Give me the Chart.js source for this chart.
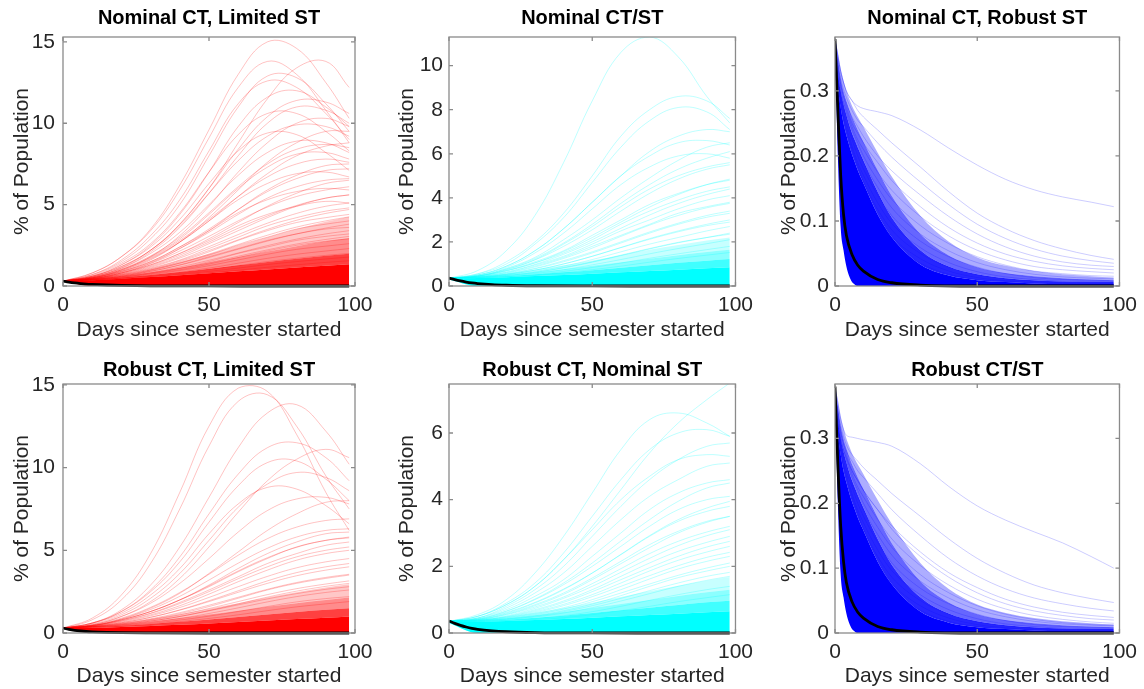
<!DOCTYPE html>
<html><head><meta charset="utf-8">
<script src="https://cdn.jsdelivr.net/npm/chart.js@4/dist/chart.umd.min.js"></script>
<style>
body{margin:0;background:#fff;width:1144px;height:689px;position:relative;overflow:hidden}
canvas{position:absolute;display:block}
</style></head><body>
<canvas id="c1" width="380" height="345" style="left:0;top:0"></canvas>
<canvas id="c2" width="380" height="345" style="left:380px;top:0"></canvas>
<canvas id="c3" width="384" height="345" style="left:760px;top:0"></canvas>
<canvas id="c4" width="380" height="344" style="left:0;top:345px"></canvas>
<canvas id="c5" width="380" height="344" style="left:380px;top:345px"></canvas>
<canvas id="c6" width="384" height="344" style="left:760px;top:345px"></canvas>
<script>
// ---------- text ----------
const TITLES = ["Nominal CT, Limited ST","Nominal CT/ST","Nominal CT, Robust ST","Robust CT, Limited ST","Robust CT, Nominal ST","Robust CT/ST"];
const X_LABEL = "Days since semester started";
const Y_LABEL = "% of Population";
// ---------- ticks ----------
const X_TICKS = [0, 50, 100];
const Y_TICKS_15 = [0, 5, 10, 15];
const Y_TICKS_10 = [0, 2, 4, 6, 8, 10];
const Y_TICKS_6 = [0, 2, 4, 6];
const Y_TICKS_03 = [0, 0.1, 0.2, 0.3];
// ---------- day grids ----------
const GROW_DAYS = [0, 10, 20, 30, 40, 50, 60, 70, 80, 90, 98];
const DECAY_DAYS = [0, 2, 4, 6, 8, 10, 15, 20, 30, 40, 50, 60, 70, 80, 90, 98];
const BAND_DECAY_DAYS = [0, 1, 2, 3, 4, 5, 6, 7, 8, 10, 15, 20, 30, 40, 50, 60, 70, 80, 90, 98];
const BLACK_GROW_DAYS = [0, 2, 4, 6, 8, 10, 15, 20, 30, 50, 75, 98];
const BLACK_DECAY_DAYS = [0, 1, 2, 3, 4, 6, 8, 10, 15, 20, 30, 50, 98];
// opacity of the density bands, outermost first
const BAND_ALPHAS = [0.22, 0.45, 0.75, 1];
const BAND_ALPHAS_BLUE = [0.32, 0.6, 0.85, 1];

// ---------- Panel 1: Nominal CT, Limited ST ----------
const P1_LINES = [
 [0.3,0.8,1.8,3.5,6.2,9.6,13,15,14.6,12.5,10.3],
 [0.3,0.6,1.2,2.2,3.8,6,8.8,11.5,13.4,13.8,12.2],
 [0.3,0.8,1.8,3.4,5.9,9.1,12.2,13.8,13,10.8,8.8],
 [0.3,0.7,1.5,2.9,5,8,11,12.9,12.8,11.2,9.5],
 [0.3,0.7,1.6,3.1,5.3,8.3,11.2,12.6,12.2,10.6,9],
 [0.3,0.6,1.3,2.5,4.4,7,9.8,11.6,12,11,9.8],
 [0.3,0.55,1.15,2.2,3.8,6,8.4,10.4,11.4,11.3,10.6],
 [0.3,0.55,1.1,2.1,3.6,5.7,8,10,11,10.8,10],
 [0.3,0.65,1.4,2.6,4.5,7,9.3,10.6,10.6,9.5,8.3],
 [0.3,0.5,1,1.8,3.1,4.9,7,8.8,10,10.3,9.8],
 [0.3,0.6,1.2,2.2,3.7,5.7,7.7,9.2,9.9,9.8,9.2],
 [0.3,0.6,1.3,2.4,4.1,6.3,8.3,9.4,9.3,8.2,7.1],
 [0.3,0.5,0.9,1.6,2.7,4.2,5.9,7.6,8.8,9.5,9.5],
 [0.3,0.55,1.1,2,3.3,5,6.8,8.2,8.9,8.8,8.2],
 [0.3,0.5,0.95,1.65,2.7,4,5.5,6.9,8,8.6,8.8],
 [0.3,0.55,1.05,1.85,3,4.5,6.1,7.5,8.4,8.7,8.5],
 [0.3,0.5,1,1.8,2.9,4.4,6,7.3,8.1,8.2,7.8],
 [0.3,0.52,1,1.75,2.8,4.1,5.5,6.7,7.5,7.8,7.6],
 [0.3,0.45,0.8,1.4,2.3,3.4,4.7,5.9,6.8,7.4,7.5],
 [0.3,0.48,0.88,1.5,2.4,3.5,4.7,5.8,6.6,7.1,7.2],
 [0.3,0.5,0.95,1.7,2.7,4,5.3,6.3,6.9,7,6.7],
 [0.3,0.47,0.85,1.45,2.3,3.3,4.4,5.4,6.1,6.5,6.6],
 [0.3,0.45,0.8,1.3,2,2.9,3.9,4.9,5.7,6.3,6.5],
 [0.3,0.46,0.82,1.38,2.15,3.05,4,4.85,5.5,5.9,6.1],
 [0.3,0.5,0.9,1.5,2.4,3.4,4.5,5.3,5.8,6,5.9],
 [0.3,0.45,0.75,1.2,1.8,2.6,3.4,4.2,4.9,5.4,5.6],
 [0.3,0.44,0.76,1.25,1.9,2.7,3.55,4.3,4.95,5.4,5.6],
 [0.3,0.45,0.8,1.3,2,2.8,3.7,4.4,4.9,5.2,5.1],
 [0.3,0.43,0.72,1.15,1.72,2.42,3.16,3.86,4.46,4.9,5.1],
 [0.3,0.42,0.7,1.1,1.6,2.3,3,3.7,4.2,4.6,4.8],
 [0.3,0.42,0.68,1.06,1.56,2.18,2.84,3.48,4.04,4.46,4.7],
 [0.3,0.42,0.65,1,1.5,2.1,2.8,3.4,3.9,4.2,4.4],
 [0.3,0.41,0.64,0.98,1.42,1.96,2.55,3.12,3.62,4,4.25],
 [0.3,0.4,0.6,0.95,1.4,1.9,2.5,3,3.5,3.8,4],
 [0.3,0.4,0.6,0.9,1.28,1.75,2.26,2.76,3.2,3.56,3.8],
 [0.3,0.4,0.6,0.9,1.3,1.8,2.3,2.8,3.2,3.5,3.6],
 [0.3,0.39,0.57,0.83,1.17,1.58,2.03,2.48,2.88,3.2,3.4],
 [0.3,0.4,0.55,0.8,1.1,1.5,2,2.4,2.8,3.05,3.2],
 [0.3,0.38,0.54,0.77,1.07,1.43,1.83,2.22,2.58,2.86,3.05],
 [0.3,0.38,0.52,0.75,1,1.35,1.75,2.15,2.5,2.75,2.9],
 [0.3,0.38,0.5,0.7,0.95,1.25,1.6,1.95,2.25,2.45,2.6],
 [0.3,0.37,0.48,0.65,0.85,1.1,1.4,1.7,1.95,2.15,2.3],
 [0.3,0.36,0.46,0.6,0.78,1,1.25,1.5,1.7,1.88,2],
 [0.3,0.35,0.44,0.56,0.72,0.9,1.1,1.32,1.5,1.66,1.78],
 [0.3,0.35,0.42,0.52,0.65,0.8,0.97,1.15,1.3,1.45,1.55]
];
const P1_BANDS = [
 [0.3,0.46,0.72,1.06,1.48,1.96,2.48,3,3.5,3.95,4.25],
 [0.3,0.42,0.6,0.84,1.12,1.44,1.78,2.12,2.45,2.75,2.95],
 [0.3,0.39,0.52,0.68,0.86,1.06,1.27,1.48,1.68,1.86,1.98],
 [0.3,0.36,0.45,0.55,0.66,0.78,0.9,1.02,1.14,1.25,1.33]
];
const P1_LOWER = [0.28,0,0,0,0,0,0,0,0,0,0];
const P1_BLACK = [0.3,0.24,0.19,0.15,0.12,0.1,0.06,0.035,0.012,0.002,0,0];

// ---------- Panel 2: Nominal CT/ST ----------
const P2_LINES = [
 [0.35,0.7,1.6,3.2,5.6,8.4,10.6,11.3,10.4,8.6,7.4],
 [0.35,0.55,1.1,2,3.3,5,6.8,8,8.6,8.4,7.6],
 [0.35,0.55,1,1.9,3.1,4.7,6.3,7.5,8.1,7.9,7.1],
 [0.35,0.5,0.9,1.6,2.6,3.8,5,6.1,6.8,7.1,7],
 [0.35,0.5,0.9,1.6,2.6,3.8,5,5.9,6.5,6.6,6.4],
 [0.35,0.45,0.8,1.3,2.1,3,4,4.9,5.7,6.3,6.5],
 [0.35,0.47,0.78,1.25,1.95,2.8,3.75,4.6,5.3,5.8,6.1],
 [0.35,0.5,0.85,1.5,2.4,3.5,4.6,5.4,5.9,6,5.8],
 [0.35,0.45,0.75,1.2,1.9,2.7,3.6,4.4,5,5.4,5.6],
 [0.35,0.46,0.74,1.18,1.8,2.55,3.4,4.2,4.85,5.3,5.5],
 [0.35,0.44,0.68,1.05,1.56,2.2,2.9,3.58,4.15,4.6,4.85],
 [0.35,0.45,0.7,1.1,1.6,2.3,3,3.7,4.2,4.6,4.8],
 [0.35,0.45,0.7,1.05,1.5,2.1,2.8,3.4,3.9,4.3,4.5],
 [0.35,0.43,0.64,0.98,1.44,2,2.62,3.22,3.74,4.15,4.4],
 [0.35,0.42,0.62,0.95,1.35,1.9,2.5,3,3.5,3.9,4.1],
 [0.35,0.42,0.6,0.9,1.3,1.8,2.3,2.8,3.3,3.6,3.8],
 [0.35,0.41,0.58,0.86,1.25,1.72,2.25,2.76,3.2,3.55,3.75],
 [0.35,0.4,0.55,0.8,1.15,1.55,2,2.45,2.85,3.2,3.4],
 [0.35,0.4,0.54,0.78,1.1,1.5,1.95,2.4,2.8,3.12,3.3],
 [0.35,0.4,0.52,0.72,1,1.35,1.75,2.15,2.5,2.8,3],
 [0.35,0.39,0.52,0.72,1,1.35,1.74,2.12,2.46,2.74,2.9],
 [0.35,0.38,0.5,0.66,0.9,1.2,1.55,1.9,2.2,2.5,2.7],
 [0.35,0.38,0.48,0.62,0.82,1.08,1.38,1.68,1.96,2.2,2.4],
 [0.35,0.38,0.47,0.62,0.84,1.1,1.4,1.7,1.98,2.2,2.35],
 [0.35,0.37,0.45,0.57,0.74,0.96,1.2,1.46,1.7,1.92,2.1],
 [0.35,0.36,0.42,0.52,0.66,0.84,1.04,1.26,1.46,1.65,1.8],
 [0.35,0.35,0.4,0.48,0.6,0.74,0.9,1.08,1.25,1.4,1.52]
];
const P2_BANDS = [
 [0.35,0.42,0.56,0.74,0.94,1.16,1.4,1.64,1.86,2.06,2.2],
 [0.35,0.4,0.5,0.62,0.76,0.92,1.08,1.24,1.4,1.54,1.64],
 [0.35,0.38,0.45,0.53,0.62,0.72,0.83,0.94,1.05,1.15,1.22],
 [0.35,0.36,0.4,0.45,0.5,0.56,0.62,0.68,0.74,0.8,0.85]
];
const P2_LOWER = [0.3,0,0,0,0,0,0,0,0,0,0];
const P2_BLACK = [0.36,0.29,0.23,0.18,0.14,0.11,0.06,0.035,0.012,0.002,0,0];

// ---------- Panel 3: Nominal CT, Robust ST ----------
const P3_LINES = [
 [0.38,0.33,0.3,0.285,0.277,0.273,0.268,0.262,0.24,0.212,0.186,0.164,0.148,0.137,0.129,0.122],
 [0.38,0.33,0.3,0.285,0.27,0.26,0.24,0.22,0.183,0.145,0.112,0.088,0.07,0.057,0.047,0.041],
 [0.38,0.32,0.29,0.27,0.255,0.245,0.22,0.198,0.16,0.125,0.095,0.073,0.057,0.046,0.039,0.035],
 [0.37,0.31,0.28,0.26,0.245,0.23,0.2,0.177,0.14,0.107,0.08,0.06,0.046,0.037,0.032,0.03],
 [0.37,0.31,0.275,0.25,0.235,0.22,0.19,0.162,0.122,0.09,0.066,0.049,0.038,0.031,0.027,0.025],
 [0.37,0.3,0.27,0.245,0.225,0.21,0.175,0.147,0.107,0.077,0.055,0.04,0.03,0.025,0.022,0.02],
 [0.36,0.3,0.265,0.24,0.22,0.2,0.163,0.133,0.093,0.065,0.045,0.032,0.023,0.019,0.016,0.015],
 [0.36,0.29,0.26,0.23,0.21,0.19,0.152,0.12,0.08,0.054,0.036,0.025,0.018,0.014,0.012,0.011],
 [0.36,0.29,0.25,0.225,0.2,0.18,0.14,0.108,0.069,0.045,0.029,0.019,0.013,0.01,0.009,0.008],
 [0.36,0.28,0.245,0.215,0.19,0.17,0.128,0.096,0.059,0.036,0.022,0.014,0.01,0.007,0.006,0.006],
 [0.35,0.28,0.24,0.21,0.185,0.16,0.118,0.086,0.05,0.029,0.017,0.011,0.007,0.005,0.004,0.004],
 [0.35,0.27,0.23,0.2,0.175,0.15,0.107,0.076,0.042,0.023,0.013,0.008,0.005,0.004,0.003,0.003],
 [0.35,0.27,0.225,0.19,0.165,0.14,0.097,0.067,0.035,0.018,0.01,0.006,0.004,0.003,0.002,0.002],
 [0.35,0.26,0.215,0.18,0.155,0.13,0.088,0.059,0.029,0.014,0.007,0.004,0.002,0.002,0.001,0.001],
 [0.34,0.26,0.21,0.17,0.145,0.12,0.079,0.051,0.024,0.011,0.005,0.003,0.002,0.001,0.001,0.001],
 [0.34,0.25,0.2,0.16,0.135,0.11,0.07,0.044,0.019,0.008,0.004,0.002,0.001,0,0,0],
 [0.34,0.25,0.19,0.15,0.125,0.1,0.062,0.037,0.015,0.006,0.003,0.001,0,0,0,0],
 [0.34,0.24,0.18,0.14,0.115,0.09,0.054,0.031,0.012,0.004,0.002,0,0,0,0,0],
 [0.33,0.23,0.17,0.13,0.1,0.08,0.046,0.025,0.009,0.003,0.001,0,0,0,0,0]
];
const P3_BANDS = [
 [0.38,0.36,0.335,0.316,0.3,0.288,0.277,0.268,0.26,0.245,0.205,0.168,0.108,0.068,0.044,0.031,0.023,0.018,0.015,0.013],
 [0.38,0.35,0.32,0.3,0.285,0.272,0.26,0.25,0.24,0.222,0.178,0.138,0.08,0.047,0.029,0.02,0.015,0.012,0.01,0.009],
 [0.38,0.33,0.3,0.28,0.263,0.248,0.235,0.224,0.213,0.193,0.145,0.105,0.055,0.03,0.018,0.012,0.009,0.007,0.006,0.006],
 [0.38,0.31,0.275,0.25,0.232,0.216,0.202,0.19,0.178,0.158,0.11,0.075,0.033,0.016,0.009,0.006,0.004,0.003,0.003,0.003]
];
const P3_LOWER = [0.38,0.2,0.09,0.055,0.03,0.015,0.006,0.002,0,0,0,0,0,0,0,0,0,0,0,0];
const P3_BLACK = [0.38,0.27,0.17,0.11,0.078,0.048,0.032,0.023,0.01,0.005,0.0015,0,0];

// ---------- Panel 4: Robust CT, Limited ST ----------
const P4_LINES = [
 [0.3,0.9,2.3,4.8,8.5,12.5,14.8,14.6,12,8.5,6.2],
 [0.3,0.8,2,4.2,7.5,11.3,14,14.4,12.5,9.5,7.5],
 [0.3,0.6,1.4,2.9,5.2,8.2,11.2,13.3,13.8,12.2,10.2],
 [0.3,0.6,1.3,2.6,4.6,7.2,9.6,11.2,11.5,10.6,9.2],
 [0.3,0.5,1,1.9,3.3,5.2,7.3,9.2,10.5,11.1,10.6],
 [0.3,0.6,1.3,2.5,4.3,6.7,8.9,10.3,10.4,9.3,8],
 [0.3,0.55,1.1,2.1,3.6,5.6,7.6,9,9.7,9.4,8.6],
 [0.3,0.6,1.2,2.3,3.9,6,7.8,8.8,8.7,7.7,6.6],
 [0.3,0.5,1,1.8,3,4.5,6.1,7.4,8.1,8.2,7.8],
 [0.3,0.45,0.85,1.5,2.4,3.6,4.9,6.2,7.2,7.9,8],
 [0.3,0.48,0.9,1.55,2.45,3.55,4.7,5.7,6.4,6.8,6.9],
 [0.3,0.46,0.84,1.42,2.22,3.2,4.22,5.12,5.8,6.2,6.3],
 [0.3,0.45,0.8,1.3,2,2.9,3.9,4.8,5.5,6,6.1],
 [0.3,0.45,0.8,1.3,2,2.8,3.7,4.5,5.2,5.6,5.8],
 [0.3,0.44,0.78,1.3,2,2.85,3.75,4.55,5.18,5.6,5.75],
 [0.3,0.45,0.75,1.2,1.85,2.6,3.4,4.2,4.8,5.3,5.5],
 [0.3,0.43,0.73,1.18,1.78,2.5,3.28,4,4.6,5,5.2],
 [0.3,0.42,0.7,1.1,1.65,2.35,3.1,3.8,4.4,4.8,5],
 [0.3,0.41,0.66,1.04,1.54,2.15,2.8,3.42,3.94,4.3,4.5],
 [0.3,0.4,0.62,0.95,1.4,1.95,2.55,3.15,3.65,4,4.2],
 [0.3,0.4,0.62,0.95,1.38,1.9,2.46,3,3.46,3.8,4],
 [0.3,0.39,0.58,0.86,1.23,1.68,2.16,2.64,3.05,3.36,3.55],
 [0.3,0.38,0.55,0.82,1.17,1.6,2.1,2.6,3,3.3,3.5],
 [0.3,0.38,0.54,0.78,1.1,1.48,1.9,2.32,2.68,2.96,3.15],
 [0.3,0.37,0.5,0.72,1,1.36,1.76,2.17,2.53,2.82,3],
 [0.3,0.37,0.51,0.72,1,1.34,1.7,2.06,2.38,2.64,2.8],
 [0.3,0.36,0.47,0.64,0.88,1.18,1.52,1.88,2.2,2.45,2.6],
 [0.3,0.35,0.44,0.58,0.78,1.02,1.3,1.6,1.88,2.08,2.2],
 [0.3,0.34,0.42,0.53,0.69,0.88,1.1,1.35,1.58,1.76,1.9]
];
const P4_BANDS = [
 [0.3,0.41,0.6,0.85,1.14,1.46,1.8,2.14,2.46,2.75,2.95],
 [0.3,0.38,0.52,0.7,0.9,1.12,1.35,1.58,1.8,2,2.14],
 [0.3,0.35,0.44,0.55,0.68,0.82,0.97,1.12,1.27,1.4,1.5],
 [0.3,0.32,0.37,0.43,0.5,0.58,0.66,0.75,0.84,0.92,1]
];
const P4_LOWER = [0.28,0,0,0,0,0,0,0,0,0,0];
const P4_BLACK = [0.3,0.22,0.16,0.12,0.09,0.07,0.04,0.02,0.007,0,0,0];

// ---------- Panel 5: Robust CT, Nominal ST ----------
const P5_LINES = [
 [0.35,0.5,0.85,1.4,2.2,3.2,4.3,5.4,6.3,7,7.5],
 [0.35,0.55,1,1.8,2.9,4.2,5.5,6.4,6.6,6.3,5.9],
 [0.35,0.5,0.9,1.5,2.4,3.5,4.6,5.5,6,6.1,5.9],
 [0.35,0.45,0.8,1.3,2,2.9,3.8,4.6,5.2,5.6,5.7],
 [0.35,0.5,0.85,1.4,2.2,3.1,4,4.7,5.2,5.35,5.3],
 [0.35,0.45,0.75,1.2,1.8,2.6,3.4,4.1,4.6,5,5.1],
 [0.35,0.45,0.7,1.1,1.6,2.3,3,3.7,4.2,4.5,4.6],
 [0.35,0.43,0.66,1.02,1.5,2.1,2.76,3.4,3.95,4.35,4.5],
 [0.35,0.42,0.65,1,1.45,2,2.6,3.2,3.7,4,4.1],
 [0.35,0.41,0.6,0.9,1.3,1.8,2.36,2.92,3.4,3.75,3.95],
 [0.35,0.42,0.62,0.92,1.32,1.8,2.35,2.9,3.35,3.65,3.8],
 [0.35,0.4,0.58,0.85,1.2,1.65,2.15,2.65,3.05,3.35,3.5],
 [0.35,0.4,0.56,0.82,1.16,1.6,2.08,2.56,3,3.32,3.5],
 [0.35,0.4,0.55,0.78,1.08,1.48,1.93,2.38,2.75,3.03,3.2],
 [0.35,0.39,0.52,0.74,1.04,1.4,1.82,2.24,2.62,2.92,3.1],
 [0.35,0.38,0.5,0.7,0.96,1.3,1.7,2.1,2.45,2.72,2.9],
 [0.35,0.38,0.49,0.67,0.92,1.24,1.6,1.96,2.3,2.58,2.75],
 [0.35,0.38,0.48,0.64,0.86,1.15,1.5,1.86,2.18,2.43,2.6],
 [0.35,0.37,0.46,0.61,0.82,1.09,1.4,1.72,2.02,2.27,2.42],
 [0.35,0.37,0.45,0.58,0.76,1,1.3,1.62,1.92,2.15,2.3],
 [0.35,0.36,0.43,0.55,0.72,0.94,1.2,1.47,1.73,1.95,2.1],
 [0.35,0.36,0.42,0.52,0.67,0.87,1.12,1.4,1.66,1.86,2],
 [0.35,0.35,0.41,0.5,0.64,0.82,1.04,1.27,1.5,1.7,1.82],
 [0.35,0.35,0.4,0.48,0.6,0.76,0.96,1.18,1.4,1.58,1.7],
 [0.35,0.34,0.37,0.43,0.52,0.64,0.8,0.98,1.15,1.3,1.4],
 [0.35,0.33,0.35,0.39,0.46,0.55,0.67,0.8,0.94,1.06,1.15]
];
const P5_BANDS = [
 [0.35,0.4,0.49,0.61,0.75,0.91,1.08,1.25,1.42,1.57,1.68],
 [0.35,0.38,0.44,0.53,0.63,0.75,0.87,0.99,1.11,1.22,1.3],
 [0.35,0.36,0.4,0.46,0.52,0.6,0.68,0.76,0.84,0.92,0.97],
 [0.35,0.34,0.36,0.39,0.42,0.46,0.5,0.54,0.58,0.62,0.65]
];
const P5_LOWER = [0.3,0,0,0,0,0,0,0,0,0,0];
const P5_BLACK = [0.36,0.29,0.23,0.18,0.14,0.11,0.065,0.038,0.014,0.002,0,0];

// ---------- Panel 6: Robust CT/ST ----------
const P6_LINES = [
 [0.38,0.33,0.305,0.302,0.3,0.298,0.294,0.288,0.261,0.226,0.196,0.174,0.156,0.139,0.118,0.1],
 [0.37,0.32,0.29,0.275,0.265,0.255,0.235,0.215,0.18,0.145,0.115,0.092,0.074,0.062,0.053,0.047],
 [0.37,0.31,0.28,0.265,0.25,0.24,0.215,0.19,0.15,0.115,0.088,0.068,0.054,0.045,0.038,0.034],
 [0.36,0.3,0.27,0.25,0.235,0.22,0.19,0.165,0.125,0.093,0.07,0.052,0.04,0.032,0.027,0.024],
 [0.37,0.31,0.275,0.25,0.235,0.22,0.19,0.16,0.118,0.086,0.062,0.045,0.034,0.027,0.022,0.02],
 [0.37,0.3,0.27,0.245,0.225,0.21,0.175,0.145,0.104,0.074,0.052,0.037,0.027,0.021,0.017,0.015],
 [0.36,0.3,0.265,0.24,0.22,0.2,0.163,0.132,0.09,0.062,0.042,0.029,0.021,0.016,0.013,0.012],
 [0.36,0.29,0.26,0.23,0.21,0.19,0.152,0.12,0.08,0.054,0.036,0.025,0.018,0.014,0.012,0.011],
 [0.36,0.29,0.25,0.225,0.2,0.18,0.14,0.108,0.069,0.045,0.029,0.019,0.013,0.01,0.009,0.008],
 [0.36,0.28,0.245,0.215,0.19,0.17,0.128,0.096,0.059,0.036,0.022,0.014,0.01,0.007,0.006,0.006],
 [0.35,0.28,0.24,0.21,0.185,0.16,0.118,0.086,0.05,0.029,0.017,0.011,0.007,0.005,0.004,0.004],
 [0.35,0.27,0.23,0.2,0.175,0.15,0.107,0.076,0.042,0.023,0.013,0.008,0.005,0.004,0.003,0.003],
 [0.35,0.27,0.225,0.19,0.165,0.14,0.097,0.067,0.035,0.018,0.01,0.006,0.004,0.003,0.002,0.002],
 [0.35,0.26,0.215,0.18,0.155,0.13,0.088,0.059,0.029,0.014,0.007,0.004,0.002,0.002,0.001,0.001],
 [0.34,0.26,0.21,0.17,0.145,0.12,0.079,0.051,0.024,0.011,0.005,0.003,0.002,0.001,0.001,0.001],
 [0.34,0.25,0.2,0.16,0.135,0.11,0.07,0.044,0.019,0.008,0.004,0.002,0.001,0,0,0],
 [0.34,0.25,0.19,0.15,0.125,0.1,0.062,0.037,0.015,0.006,0.003,0.001,0,0,0,0],
 [0.34,0.24,0.18,0.14,0.115,0.09,0.054,0.031,0.012,0.004,0.002,0,0,0,0,0],
 [0.33,0.23,0.17,0.13,0.1,0.08,0.046,0.025,0.009,0.003,0.001,0,0,0,0,0]
];
const P6_BANDS = [
 [0.38,0.36,0.335,0.316,0.3,0.288,0.277,0.268,0.26,0.245,0.205,0.168,0.108,0.068,0.044,0.031,0.023,0.018,0.015,0.013],
 [0.38,0.35,0.32,0.3,0.285,0.272,0.26,0.25,0.24,0.222,0.178,0.138,0.08,0.047,0.029,0.02,0.015,0.012,0.01,0.009],
 [0.38,0.33,0.3,0.28,0.263,0.248,0.235,0.224,0.213,0.193,0.145,0.105,0.055,0.03,0.018,0.012,0.009,0.007,0.006,0.006],
 [0.38,0.31,0.275,0.25,0.232,0.216,0.202,0.19,0.178,0.158,0.11,0.075,0.033,0.016,0.009,0.006,0.004,0.003,0.003,0.003]
];
const P6_LOWER = [0.38,0.2,0.09,0.055,0.03,0.015,0.006,0.002,0,0,0,0,0,0,0,0,0,0,0,0];
const P6_BLACK = [0.38,0.26,0.165,0.11,0.078,0.048,0.032,0.023,0.01,0.005,0.0015,0,0];

// ---------- rendering ----------
const FONT = "'Liberation Sans', Arial, Helvetica, sans-serif";
const TEXT_COLOR = '#262626';
const BOX_COLOR = '#8a8a8a';

const COLS = [
  {yW:63, padR:25, yTitlePad:9.6, yTickPad:8},
  {yW:69, padR:19, yTitlePad:15, yTickPad:6},
  {yW:75, padR:17, yTitlePad:16.4, yTickPad:6}
];
const ROWS = [
  {titleTop:6, titleBottom:7, xH:59, xTickPad:7, xTitlePad:2},
  {titleTop:13, titleBottom:2, xH:56, xTickPad:7, xTitlePad:0}
];

const PANELS = [
  {id:'c1', col:0, row:0, ymax:15.3, yTicks:Y_TICKS_15, rgb:'255,0,0', alpha:0.24, grow:true, days:GROW_DAYS, lines:P1_LINES, bandDays:GROW_DAYS, bands:P1_BANDS, bandAlphas:BAND_ALPHAS, lower:P1_LOWER, blackDays:BLACK_GROW_DAYS, black:P1_BLACK},
  {id:'c2', col:1, row:0, ymax:11.3, yTicks:Y_TICKS_10, rgb:'0,255,255', alpha:0.26, grow:true, days:GROW_DAYS, lines:P2_LINES, bandDays:GROW_DAYS, bands:P2_BANDS, bandAlphas:BAND_ALPHAS, lower:P2_LOWER, blackDays:BLACK_GROW_DAYS, black:P2_BLACK},
  {id:'c3', col:2, row:0, ymax:0.383, yTicks:Y_TICKS_03, rgb:'0,0,255', alpha:0.2, grow:false, days:DECAY_DAYS, lines:P3_LINES, bandDays:BAND_DECAY_DAYS, bands:P3_BANDS, bandAlphas:BAND_ALPHAS_BLUE, lower:P3_LOWER, blackDays:BLACK_DECAY_DAYS, black:P3_BLACK},
  {id:'c4', col:0, row:1, ymax:15.05, yTicks:Y_TICKS_15, rgb:'255,0,0', alpha:0.24, grow:true, days:GROW_DAYS, lines:P4_LINES, bandDays:GROW_DAYS, bands:P4_BANDS, bandAlphas:BAND_ALPHAS, lower:P4_LOWER, blackDays:BLACK_GROW_DAYS, black:P4_BLACK},
  {id:'c5', col:1, row:1, ymax:7.47, yTicks:Y_TICKS_6, rgb:'0,255,255', alpha:0.26, grow:true, days:GROW_DAYS, lines:P5_LINES, bandDays:GROW_DAYS, bands:P5_BANDS, bandAlphas:BAND_ALPHAS, lower:P5_LOWER, blackDays:BLACK_GROW_DAYS, black:P5_BLACK},
  {id:'c6', col:2, row:1, ymax:0.384, yTicks:Y_TICKS_03, rgb:'0,0,255', alpha:0.2, grow:false, days:DECAY_DAYS, lines:P6_LINES, bandDays:BAND_DECAY_DAYS, bands:P6_BANDS, bandAlphas:BAND_ALPHAS_BLUE, lower:P6_LOWER, blackDays:BLACK_DECAY_DAYS, black:P6_BLACK}
];

const boxPlugin = {
  id: 'matlabBox',
  afterDatasetsDraw(chart) {
    const {ctx, chartArea: a, scales: {x, y}} = chart;
    ctx.save();
    ctx.strokeStyle = BOX_COLOR;
    ctx.lineWidth = 1.3;
    ctx.strokeRect(a.left, a.top, a.right - a.left, a.bottom - a.top);
    ctx.beginPath();
    const tl = 4;
    x.ticks.forEach(t => {
      const px = x.getPixelForValue(t.value);
      ctx.moveTo(px, a.bottom); ctx.lineTo(px, a.bottom - tl);
      ctx.moveTo(px, a.top); ctx.lineTo(px, a.top + tl);
    });
    y.ticks.forEach(t => {
      const py = y.getPixelForValue(t.value);
      ctx.moveTo(a.left, py); ctx.lineTo(a.left + tl, py);
      ctx.moveTo(a.right, py); ctx.lineTo(a.right - tl, py);
    });
    ctx.stroke();
    ctx.restore();
  }
};

function pts(days, vals) { return days.map((d, i) => ({x: d, y: vals[i]})); }
const CLIP = {left: 0, top: 0, right: 0, bottom: 3};

PANELS.forEach((p, idx) => {
  const col = COLS[p.col], row = ROWS[p.row];
  const curve = p.grow ? {tension: 0.4} : {cubicInterpolationMode: 'monotone'};
  const datasets = [];
  datasets.push({data: pts(p.blackDays, p.black), borderColor: '#000', borderWidth: 2.8, pointRadius: 0, fill: false, cubicInterpolationMode: 'monotone', order: 0, clip: CLIP});
  p.lines.forEach(v => datasets.push(Object.assign({data: pts(p.days, v), borderColor: `rgba(${p.rgb},${p.alpha})`, borderWidth: 1, pointRadius: 0, fill: false, order: 1, clip: CLIP}, curve)));
  p.bands.forEach((b, k) => datasets.push({data: pts(p.bandDays, b), borderWidth: 0, borderColor: 'rgba(0,0,0,0)', backgroundColor: `rgba(${p.rgb},${p.bandAlphas[k]})`, pointRadius: 0, fill: '+1', cubicInterpolationMode: 'monotone', order: 2 + k, clip: CLIP}));
  datasets.push({data: pts(p.bandDays, p.lower), borderWidth: 0, borderColor: 'rgba(0,0,0,0)', pointRadius: 0, fill: false, cubicInterpolationMode: 'monotone', order: 9, clip: CLIP});

  new Chart(document.getElementById(p.id), {
    type: 'line',
    data: {datasets},
    plugins: [boxPlugin],
    options: {
      responsive: false,
      animation: false,
      devicePixelRatio: 1,
      events: [],
      layout: {padding: {left: 0, right: col.padR, top: 0, bottom: 0}},
      plugins: {
        legend: {display: false},
        tooltip: {enabled: false},
        title: {display: true, text: TITLES[idx], fullSize: false, color: '#000',
          font: {family: FONT, size: 20, weight: 'bold'},
          padding: {top: row.titleTop, bottom: row.titleBottom}}
      },
      scales: {
        x: {
          type: 'linear', min: 0, max: 100,
          grid: {display: false, drawTicks: false},
          border: {display: false},
          afterBuildTicks: s => { s.ticks = X_TICKS.map(v => ({value: v})); },
          afterFit: s => { s.height = row.xH; },
          ticks: {color: TEXT_COLOR, font: {family: FONT, size: 21}, padding: row.xTickPad, maxRotation: 0, autoSkip: false, callback: v => String(v)},
          title: {display: true, text: X_LABEL, color: TEXT_COLOR, font: {family: FONT, size: 21}, padding: {top: 0, bottom: row.xTitlePad}}
        },
        y: {
          type: 'linear', min: 0, max: p.ymax,
          grid: {display: false, drawTicks: false},
          border: {display: false},
          afterBuildTicks: s => { s.ticks = p.yTicks.map(v => ({value: v})); },
          afterFit: s => { s.width = col.yW; },
          ticks: {color: TEXT_COLOR, font: {family: FONT, size: 21}, padding: col.yTickPad, autoSkip: false, callback: v => String(v)},
          title: {display: true, text: Y_LABEL, color: TEXT_COLOR, font: {family: FONT, size: 21}, padding: {top: col.yTitlePad, bottom: 0}}
        }
      }
    }
  });
});
</script>
</body></html>
